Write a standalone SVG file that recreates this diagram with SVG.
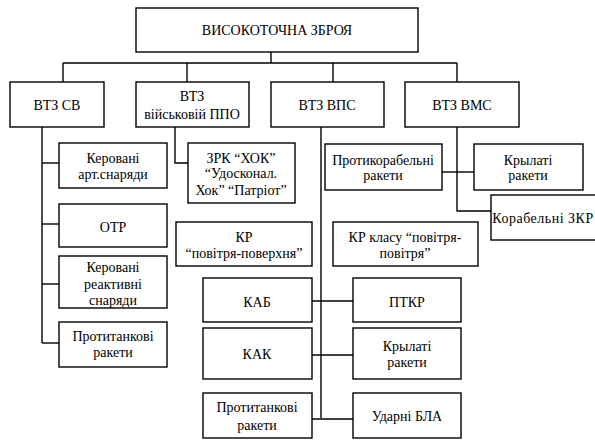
<svg xmlns="http://www.w3.org/2000/svg" width="595" height="441" viewBox="0 0 595 441">
<style>
rect{fill:#fff;stroke:#000;stroke-width:1.4}
.c line,.c polyline{stroke:#000;stroke-width:1.4;fill:none}
text{font-family:"Liberation Serif","DejaVu Serif",serif;font-size:14px;text-anchor:middle;fill:#000}
</style>
<rect x="0" y="0" width="595" height="441" style="stroke:none"/>
<g class="c" id="connectors">
<line x1="271" y1="52" x2="271" y2="63"/>
<line x1="63" y1="63" x2="457" y2="63"/>
<line x1="63" y1="63" x2="63" y2="82"/>
<line x1="187" y1="63" x2="187" y2="82"/>
<line x1="333" y1="63" x2="333" y2="82"/>
<line x1="457" y1="63" x2="457" y2="82"/>
<line x1="42" y1="127" x2="42" y2="343"/>
<line x1="42" y1="163" x2="59" y2="163"/>
<line x1="42" y1="224" x2="59" y2="224"/>
<line x1="42" y1="284" x2="59" y2="284"/>
<line x1="42" y1="343" x2="59" y2="343"/>
<polyline points="175,127 175,163 188,163"/>
<line x1="321" y1="127" x2="321" y2="418"/>
<line x1="312" y1="301" x2="353" y2="301"/>
<line x1="312" y1="355" x2="353" y2="355"/>
<line x1="312" y1="419" x2="353" y2="419"/>
<polyline points="457,127 457,211 491,211"/>
<line x1="442" y1="172" x2="474" y2="172"/>
</g>
<g id="root"><rect x="136" y="8" width="282" height="44"/><text x="277" y="35">ВИСОКОТОЧНА ЗБРОЯ</text></g>
<g id="vtz-sv"><rect x="10" y="82" width="94" height="45"/><text x="57" y="110">ВТЗ СВ</text></g>
<g id="vtz-ppo"><rect x="136" y="82" width="113" height="45"/><text x="192" y="101">ВТЗ</text><text x="192" y="119">військовій ППО</text></g>
<g id="vtz-vps"><rect x="271" y="82" width="113" height="45"/><text x="327" y="110">ВТЗ ВПС</text></g>
<g id="vtz-vms"><rect x="405" y="82" width="114" height="45"/><text x="462" y="110">ВТЗ ВМС</text></g>
<g id="art"><rect x="59" y="143" width="108" height="45"/><text x="113" y="163">Керовані</text><text x="113" y="179">арт.снаряди</text></g>
<g id="otr"><rect x="59" y="204" width="108" height="43"/><text x="113" y="232">ОТР</text></g>
<g id="reakt"><rect x="59" y="256" width="108" height="52"/><text x="113" y="272">Керовані</text><text x="113" y="289">реактивні</text><text x="113" y="305">снаряди</text></g>
<g id="ptr-sv"><rect x="59" y="322" width="108" height="45"/><text x="113" y="341">Протитанкові</text><text x="113" y="357">ракети</text></g>
<g id="zrk"><rect x="188" y="143" width="107" height="60"/><text x="241" y="163">ЗРК “ХОК”</text><text x="241" y="178">“Удосконал.</text><text x="241" y="195">Хок” “Патріот”</text></g>
<g id="kr-pp"><rect x="176" y="222" width="136" height="44"/><text x="244" y="242">КР</text><text x="244" y="258">“повітря-поверхня”</text></g>
<g id="kr-pv"><rect x="333" y="222" width="145" height="44"/><text x="405" y="242">КР класу “повітря-</text><text x="405" y="258">повітря”</text></g>
<g id="prk"><rect x="325" y="144" width="117" height="46"/><text x="383" y="165">Протикорабельні</text><text x="383" y="180">ракети</text></g>
<g id="kr-vms"><rect x="474" y="144" width="109" height="46"/><text x="528" y="165">Крылаті</text><text x="528" y="180">ракети</text></g>
<g id="zkr"><rect x="491" y="195" width="106" height="45"/><text x="543" y="223" letter-spacing="0.5">Корабельні ЗКР</text></g>
<g id="kab"><rect x="203" y="278" width="109" height="44"/><text x="257" y="307">КАБ</text></g>
<g id="kak"><rect x="203" y="328" width="109" height="51"/><text x="257" y="359">КАК</text></g>
<g id="ptr-vps"><rect x="203" y="393" width="109" height="45"/><text x="257" y="412">Протитанкові</text><text x="257" y="430">ракети</text></g>
<g id="ptkr"><rect x="353" y="278" width="108" height="44"/><text x="407" y="307">ПТКР</text></g>
<g id="kr-vps"><rect x="353" y="328" width="108" height="51"/><text x="407" y="351">Крылаті</text><text x="407" y="367">ракети</text></g>
<g id="bla"><rect x="353" y="393" width="108" height="45"/><text x="407" y="421">Ударні БЛА</text></g>
</svg>
